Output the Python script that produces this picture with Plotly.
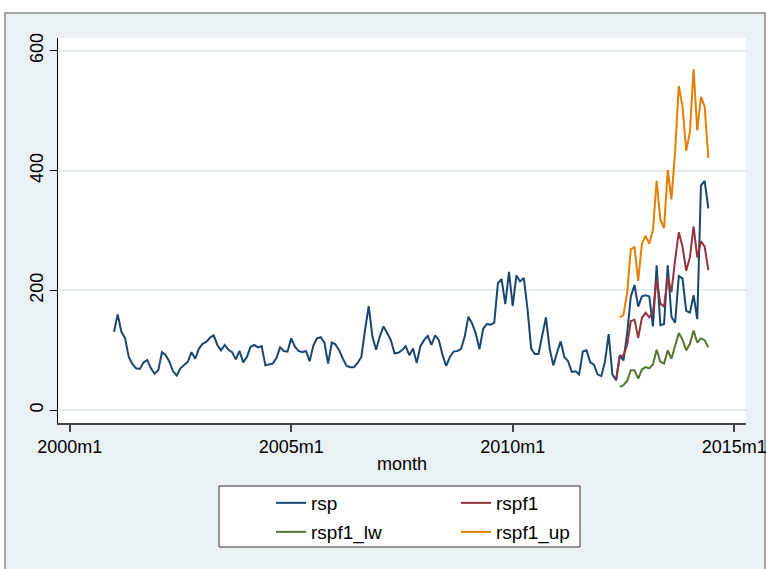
import plotly.graph_objects as go


def tm(s):
    """Stata %tm index of a 'YYYYmM' label."""
    y, m = s.split("m")
    return (int(y) - 1960) * 12 + int(m) - 1


# ---------------- data ----------------
rsp_start = "2001m1"
rsp = [
    131, 160, 131, 120, 89, 77, 70, 69, 80, 84,
    70, 61, 67, 97, 92, 81, 65, 58, 70, 75,
    81, 97, 86, 103, 111, 114, 121, 125, 109, 100,
    109, 101, 97, 85, 99, 80, 89, 106, 109, 105,
    107, 75, 77, 78, 87, 105, 99, 98, 120, 106,
    99, 97, 99, 82, 108, 120, 122, 113, 78, 113,
    110, 100, 86, 74, 72, 72, 79, 89, 134, 174,
    123, 101, 123, 140, 129, 117, 95, 96, 100, 107,
    92, 103, 79, 107, 117, 124, 109, 125, 117, 92,
    74, 89, 98, 99, 102, 123, 156, 145, 128, 102,
    136, 144, 143, 146, 212, 219, 177, 231, 174, 225,
    215, 221, 170, 103, 94, 94, 125, 155, 103, 75,
    96, 115, 89, 82, 64, 65, 60, 98, 100, 80,
    76, 60, 57, 81, 127, 60, 50, 92, 83, 128,
    190, 209, 173, 190, 192, 190, 140, 242, 142, 144,
    242, 156, 146, 224, 220, 166, 163, 192, 152, 375,
    383, 337,
]

rspf1_start = "2012m5"
rspf1 = [50, 89, 92, 109, 149, 151, 121, 154, 163, 155, 164, 219, 178,
         173, 223, 197, 251, 297, 273, 233, 255, 307, 255, 282, 273, 234]

band_start = "2012m6"
rspf1_lw = [39, 42, 49, 67, 67, 53, 68, 72, 70, 77, 101, 81, 78, 100,
            86, 109, 129, 118, 100, 111, 133, 113, 120, 117, 105]
rspf1_up = [155, 159, 196, 269, 272, 216, 278, 291, 278, 301, 383, 318, 304,
            401, 352, 432, 541, 507, 433, 464, 569, 467, 523, 507, 421]

x_ticklabels = ["2000m1", "2005m1", "2010m1", "2015m1"]
y_ticks = [0, 200, 400, 600]


def months(start, n):
    s = tm(start)
    return list(range(s, s + n))


series = [
    ("rsp", rsp_start, rsp, "#1A476F", "legend"),
    ("rspf1", rspf1_start, rspf1, "#90353B", "legend"),
    ("rspf1_lw", band_start, rspf1_lw, "#55752F", "legend2"),
    ("rspf1_up", band_start, rspf1_up, "#E37E00", "legend2"),
]

fig = go.Figure()
for name, start, vals, color, leg in series:
    fig.add_trace(go.Scatter(
        x=months(start, len(vals)), y=vals, mode="lines", name=name,
        line=dict(color=color, width=2), legend=leg,
    ))

W, H = 767, 569
ml, mr, mt, mb = 58, 21, 38, 146
pw, ph = W - ml - mr, H - mt - mb


def px_x(p):
    return (p - ml) / pw


def px_y(p):
    return (H - mb - p) / ph


graph_bg = "#EAF1F3"

shapes = [
    dict(type="rect", xref="paper", yref="paper", layer="below",
         x0=px_x(5), x1=px_x(765), y0=px_y(580), y1=px_y(13),
         fillcolor=graph_bg, line=dict(color="#8C8C8C", width=1.5)),
    dict(type="rect", xref="paper", yref="paper", layer="below",
         x0=0, x1=1, y0=0, y1=1, fillcolor="white", line=dict(width=0)),
    dict(type="rect", xref="paper", yref="paper", layer="below",
         x0=px_x(219), x1=px_x(580), y0=px_y(547), y1=px_y(486),
         fillcolor="white", line=dict(color="#333333", width=1)),
]

legend_common = dict(
    orientation="h", xanchor="left", yanchor="middle",
    x=px_x(271), entrywidth=140, entrywidthmode="pixels",
    bgcolor="rgba(0,0,0,0)", borderwidth=0,
    font=dict(size=19, color="black"),
    itemclick=False, itemdoubleclick=False,
)

fig.update_layout(
    width=W, height=H,
    margin=dict(l=ml, r=mr, t=mt, b=mb, autoexpand=False),
    paper_bgcolor="white", plot_bgcolor="white",
    font=dict(family="Liberation Sans, Arial, sans-serif", size=18, color="black"),
    showlegend=True,
    xaxis=dict(
        range=[476.83, 663.2],
        tickvals=[tm(s) for s in x_ticklabels], ticktext=x_ticklabels,
        showgrid=False, zeroline=False,
        showline=True, linecolor="#444444", linewidth=1.5,
        ticks="outside", ticklen=7, tickcolor="#444444", tickwidth=1.5,
        tickfont=dict(size=18),
        title=dict(text="month", font=dict(size=18), standoff=1),
    ),
    yaxis=dict(
        range=[-21.2, 621.2], tickvals=y_ticks, tickangle=-90,
        showgrid=True, gridcolor="#E3ECEF", gridwidth=1.5, zeroline=False,
        showline=True, linecolor="black", linewidth=1,
        ticks="outside", ticklen=7, tickcolor="black",
        tickfont=dict(size=18),
    ),
    legend=dict(legend_common, y=px_y(503)),
    legend2=dict(legend_common, y=px_y(532)),
    shapes=shapes,
)

fig.write_html(
    "out.html",
    config={"displayModeBar": False},
    post_script="document.body.style.margin='0px';document.body.style.padding='0px';",
)
